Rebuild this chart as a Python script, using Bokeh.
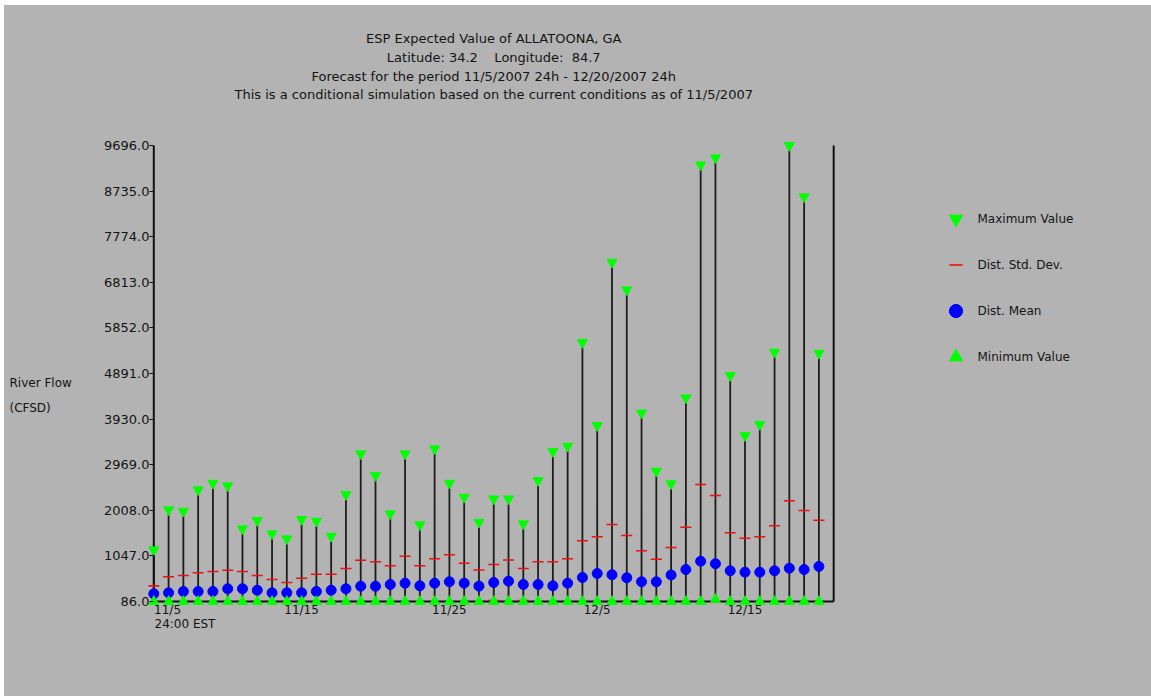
from bokeh.plotting import figure
from bokeh.layouts import row
from bokeh.models import (Range1d, FixedTicker, PrintfTickFormatter, Label,
                          Legend, LegendItem, LinearAxis)
from bokeh.core.properties import value
from bokeh.embed import file_html
from bokeh.resources import INLINE

# ---------------- data ----------------
days = list(range(46))  # 11/5/2007 .. 12/20/2007
max_vals = [1176, 2019, 1989, 2440, 2579, 2524, 1618, 1793, 1513, 1407,
            1814, 1778, 1462, 2341, 3199, 2741, 1934, 3199, 1702, 3304,
            2579, 2284, 1757, 2250, 2250, 1724, 2636, 3247, 3359, 5544,
            3795, 7237, 6655, 4059, 2832, 2567, 4379, 9289, 9437, 4849,
            3584, 3816, 5340, 9696, 8615, 5319]
min_vals = [86] * 38 + [130] + [86] * 7
mean_vals = [248, 269, 297, 297, 297, 354, 354, 324, 269, 269,
             269, 297, 324, 354, 408, 408, 444, 472, 417, 472,
             501, 472, 410, 486, 515, 444, 444, 417, 472, 592,
             676, 650, 585, 501, 501, 645, 760, 935, 881, 733,
             703, 703, 733, 788, 760, 824]
std_vals = [167, 338, 337, 394, 421, 392, 364, 310, 281, 217,
            308, 364, 337, 427, 548, 515, 394, 569, 421, 514,
            569, 421, 340, 380, 445, 337, 479, 506, 514, 773,
            774, 1059, 892, 653, 476, 580, 892, 1617, 1439, 801,
            717, 747, 948, 1420, 1244, 975]

y_ticks = [86, 1047, 2008, 2969, 3930, 4891, 5852, 6813, 7774, 8735, 9696]
x_tick_days = [10, 20, 30, 40]
x_tick_labels = ["11/15", "11/25", "12/5", "12/15"]
first_tick_label = "11/5"
first_tick_sub = "24:00 EST"
NB = "\u00a0"
title_lines = [
    "ESP Expected Value of ALLATOONA, GA",
    "Latitude: 34.2" + NB * 4 + "Longitude:" + NB * 2 + "84.7",
    "Forecast for the period 11/5/2007 24h - 12/20/2007 24h",
    "This is a conditional simulation based on the current conditions as of 11/5/2007",
]
y_label_lines = ["River Flow", "(CFSD)"]
legend_labels = ["Maximum Value", "Dist. Std. Dev.", "Dist. Mean", "Minimum Value"]

y_min, y_max = min(y_ticks), max(y_ticks)
last_day = 46

# ---------------- geometry (page pixels) ----------------
OX, OY = 4, 5                 # page offset of the drawing (white strips)
PW, PH = 1151, 696            # window
MX0 = 90                      # page x where main figure begins
LW = MX0 - OX                 # width of the left text strip figure
FL, FB = 145, 606             # main frame left / bottom (page px)
day0_px = 153.3
px_per_day = 14.78
ymin_px = 601.0
u = (y_max - y_min) / 456.0   # data units per pixel

x_start = -(day0_px - FL) / px_per_day
x_end = x_start + (PW - FL) / px_per_day
y_start = y_min - (FB - ymin_px) * u
y_end = y_min + (ymin_px - OY) * u


def ydata(page_y):
    return y_min + (ymin_px - page_y) * u


BG = "#b3b3b3"
FONT = "DejaVu Sans"
TXT = "#141414"

# ---------------- left strip with the y label ----------------
left = figure(width=LW, height=PH - OY, output_backend="svg", toolbar_location=None,
              title=None, x_range=Range1d(OX, MX0), y_range=Range1d(FB, OY),
              x_axis_location=None, y_axis_location=None,
              min_border_left=0, min_border_right=0, min_border_top=0,
              min_border_bottom=PH - FB)
left.background_fill_color = BG
left.border_fill_color = BG
left.outline_line_color = None
left.grid.visible = False
left.styles = {"background-color": BG}
left.text(x=[9, 9], y=[382.5, 407], text=y_label_lines, text_align="left",
          text_baseline="middle", text_font=value(FONT), text_font_size="12px",
          text_color=TXT)

# ---------------- main chart ----------------
p = figure(width=PW - MX0, height=PH - OY, output_backend="svg", toolbar_location=None,
           title=None, x_range=Range1d(x_start, x_end), y_range=Range1d(y_start, y_end),
           min_border_left=FL - MX0, min_border_right=0,
           min_border_top=0, min_border_bottom=PH - FB)
p.background_fill_color = BG
p.border_fill_color = BG
p.outline_line_color = None
p.grid.visible = False
p.styles = {"background-color": BG}

# y axis
p.yaxis.ticker = FixedTicker(ticks=y_ticks)
p.yaxis.formatter = PrintfTickFormatter(format="%.1f")
p.yaxis.axis_line_color = None
p.yaxis.major_tick_in = 8
p.yaxis.major_tick_out = -4
p.yaxis.minor_tick_line_color = None
p.yaxis.major_tick_line_color = "#111111"
p.yaxis.major_label_standoff = -4
p.yaxis.major_label_text_font = FONT
p.yaxis.major_label_text_font_size = "13px"
p.yaxis.major_label_text_color = TXT

# x axis (first label is left-aligned at day 0 in the reference)
t_first = 0.93
t_sub = 2.11
p.xaxis.ticker = FixedTicker(ticks=[t_first] + x_tick_days)
overrides = {t_first: first_tick_label}
overrides.update({d: t for d, t in zip(x_tick_days, x_tick_labels)})
p.xaxis.major_label_overrides = overrides
p.xaxis.axis_line_color = None
p.xaxis.major_tick_line_color = None
p.xaxis.minor_tick_line_color = None
p.xaxis.major_tick_in = 0
p.xaxis.major_tick_out = 0
p.xaxis.major_label_standoff = -4
p.xaxis.major_label_text_font = FONT
p.xaxis.major_label_text_font_size = "12px"
p.xaxis.major_label_text_color = TXT

ax2 = LinearAxis(ticker=FixedTicker(ticks=[t_sub]),
                 major_label_overrides={t_sub: first_tick_sub},
                 axis_line_color=None, major_tick_line_color=None,
                 minor_tick_line_color=None, major_tick_in=0, major_tick_out=0,
                 major_label_standoff=-3, major_label_text_font=FONT,
                 major_label_text_font_size="12px", major_label_text_color=TXT)
p.add_layout(ax2, "below")

# vertical range lines
p.segment(x0=days, y0=min_vals, x1=days, y1=max_vals,
          line_color="#1c1c1c", line_width=1.8)

# axis frame lines (left, bottom, right)
p.segment(x0=[0, 0, last_day], y0=[y_min, y_min, y_min],
          x1=[0, last_day, last_day], y1=[y_max, y_min, y_max],
          line_color="#101010", line_width=2)

# std dev marks: mean +/- std (those below the axis minimum are not shown)
sx, sy = [], []
for d, m, s in zip(days, mean_vals, std_vals):
    sx.append(d)
    sy.append(m + s)
    if m - s >= y_min:
        sx.append(d)
        sy.append(m - s)
r_std = p.scatter(x=sx, y=sy, marker="dash", size=11,
                  line_color="#ee1111", line_width=1.6)

r_mean = p.scatter(x=days, y=mean_vals, marker="circle", size=10,
                   fill_color="#0000ff", line_color="#0000ff")
r_min = p.scatter(x=days, y=min_vals, marker="triangle", size=10,
                  fill_color="#00ff00", line_color="#00ff00")
r_max = p.scatter(x=days, y=max_vals, marker="inverted_triangle", size=10,
                  fill_color="#00ff00", line_color="#00ff00")

# titles
title_y = [38, 57, 75.5, 94]
for t, py in zip(title_lines, title_y):
    p.add_layout(Label(x=last_day / 2, y=ydata(py), x_units="data", y_units="data",
                       text=t, text_align="center", text_baseline="middle",
                       text_font=FONT, text_font_size="13px", text_color=TXT))

# legend
legend = Legend(
    items=[LegendItem(label=legend_labels[0], renderers=[r_max]),
           LegendItem(label=legend_labels[1], renderers=[r_std]),
           LegendItem(label=legend_labels[2], renderers=[r_mean]),
           LegendItem(label=legend_labels[3], renderers=[r_min])],
    location=(938.5 - FL, FB - 373), glyph_width=33, glyph_height=33, spacing=13,
    padding=0, margin=0, label_standoff=6,
    border_line_color=None, background_fill_alpha=0,
    label_text_font=FONT, label_text_font_size="12px", label_text_color=TXT)
p.add_layout(legend)

layout = row(left, p, margin=(OY, 0, 0, OX), styles={"background-color": BG})

open("out.html", "w").write(file_html(layout, INLINE))
